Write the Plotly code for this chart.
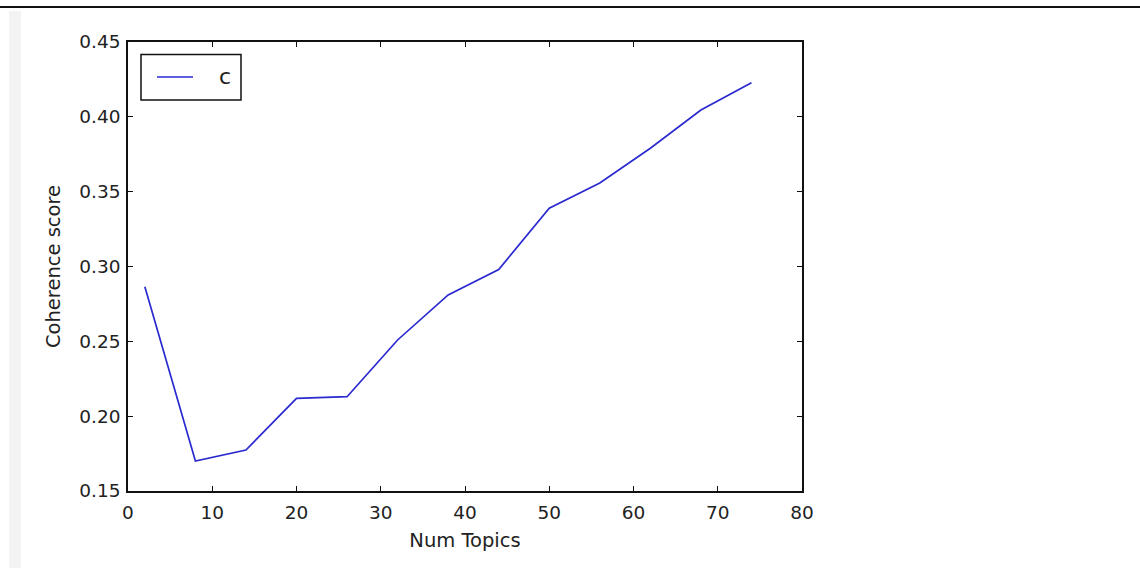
import plotly.graph_objects as go

# Coherence score per number of topics
num_topics = [2, 8, 14, 20, 26, 32, 38, 44, 50, 56, 62, 68, 74]
coherence = [0.2865, 0.170, 0.1774, 0.2119, 0.213, 0.2509, 0.281, 0.298,
             0.3389, 0.3558, 0.379, 0.4046, 0.4228]
x_ticks = [0, 10, 20, 30, 40, 50, 60, 70, 80]
y_ticks = [0.15, 0.20, 0.25, 0.30, 0.35, 0.40, 0.45]
series_name = "c"

W, H = 1140, 568
L, R, T, B = 128, 338, 42, 77
pw, ph = W - L - R, H - T - B

font = "DejaVu Sans, Verdana, sans-serif"
line_color = "#2a2ad0"
ink = "#111111"


def px_x(p):
    """Pixel column -> paper x."""
    return (p - L) / pw


def px_y(p):
    """Pixel row -> paper y."""
    return 1 - (p - T) / ph


fig = go.Figure()
fig.add_trace(go.Scatter(
    x=num_topics, y=coherence, mode="lines", name=series_name,
    line=dict(color=line_color, width=1.7), showlegend=False,
))

axis_common = dict(
    showgrid=False, zeroline=False, showline=True, linecolor=ink,
    linewidth=1.5, mirror="ticks", ticks="inside", ticklen=5,
    tickcolor=ink, tickwidth=1,
    tickfont=dict(family=font, size=18.5, color="#222222"),
)

# boxed legend in the upper-left corner of the axes
legend_shapes = [
    dict(type="rect", xref="paper", yref="paper",
         x0=px_x(141), x1=px_x(241), y0=px_y(100), y1=px_y(54.5),
         fillcolor="white", line=dict(color=ink, width=1.5)),
    dict(type="line", xref="paper", yref="paper",
         x0=px_x(157), x1=px_x(193), y0=px_y(77), y1=px_y(77),
         line=dict(color=line_color, width=1.7)),
]

fig.update_layout(
    width=W, height=H,
    margin=dict(l=L, r=R, t=T, b=B, pad=0),
    paper_bgcolor="white", plot_bgcolor="white",
    font=dict(family=font, color="#222222"),
    xaxis=dict(range=[0, 80], tickvals=x_ticks, ticklabelstandoff=4,
               title=dict(text="Num Topics", font=dict(size=19.5), standoff=11),
               **axis_common),
    yaxis=dict(range=[0.15, 0.45], tickvals=y_ticks, tickformat=".2f",
               ticklabelstandoff=2,
               title=dict(text="Coherence score", font=dict(size=19.5), standoff=14),
               **axis_common),
    showlegend=False,
    annotations=[
        dict(text=series_name, xref="paper", yref="paper",
             x=px_x(217), y=px_y(77), xanchor="left", yanchor="middle",
             showarrow=False, font=dict(family=font, size=22, color="#222222")),
    ],
    shapes=[
        # page rule across the top
        dict(type="line", xref="paper", yref="paper",
             x0=px_x(0), x1=px_x(W), y0=px_y(7), y1=px_y(7),
             line=dict(color=ink, width=2)),
        # light side strip on the left
        dict(type="rect", xref="paper", yref="paper", layer="below",
             x0=px_x(9), x1=px_x(21), y0=px_y(H), y1=px_y(11),
             fillcolor="#f3f3f3", line=dict(width=0)),
    ] + legend_shapes,
)

fig.write_html("out.html")
